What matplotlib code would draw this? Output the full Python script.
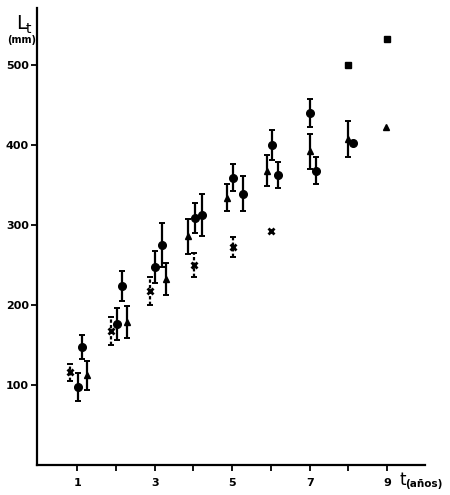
import matplotlib
matplotlib.use("Agg")
import matplotlib.pyplot as plt

# ---- data ----
circ_x = [1.02, 1.12, 2.02, 2.16, 3.02, 3.18, 4.04, 4.21, 5.03, 5.27, 6.03, 6.17, 7.02, 7.16, 8.11]
circ_y = [97.5, 147, 176, 224, 248, 275, 309, 312.5, 359, 339, 400, 362.5, 440, 368, 403]
circ_e = [17, 15, 20, 19, 20, 27, 19, 26, 17, 22, 19, 16, 17, 17, 0]

tri_x = [1.24, 2.28, 3.28, 3.87, 4.87, 5.91, 7.0, 8.0, 8.97]
tri_y = [112, 179, 232, 286, 334, 368, 392, 407.5, 422]
tri_e = [18, 20, 20, 22, 17, 19.5, 22, 22, 0]

crs_x = [0.81, 1.86, 2.88, 4.02, 5.01, 5.99]
crs_y = [116, 167.5, 217.5, 250, 273, 293]
crs_e = [10.5, 17.5, 17.5, 15, 12.5, 0]

sq_x = [7.99, 9.0]
sq_y = [500, 532.5]

x_ticks = [1, 2, 3, 4, 5, 6, 7, 8, 9]
x_labels = ["1", "", "3", "", "5", "", "7", "", "9"]
y_ticks = [100, 200, 300, 400, 500]
y_labels = ["100", "200", "300", "400", "500"]

fig = plt.figure(figsize=(4.5, 4.95), dpi=100)
ax = fig.add_axes([37.3 / 450, 30 / 495, 387.5 / 450, 456.8 / 495])
ax.set_xlim(-0.03, 9.97)
ax.set_ylim(0, 571)

ebkw = dict(fmt="none", ecolor="black", elinewidth=1.6, capsize=2.2, capthick=1.4)


def draw(xs, ys, es, dotted=False):
    pts = [(x, y, e) for x, y, e in zip(xs, ys, es) if e > 0]
    eb = ax.errorbar([p[0] for p in pts], [p[1] for p in pts],
                     yerr=[p[2] for p in pts], **ebkw)
    if dotted:
        for lc in eb[2]:
            lc.set_linestyle((0, (1.5, 1)))


draw(circ_x, circ_y, circ_e)
draw(tri_x, tri_y, tri_e)
draw(crs_x, crs_y, crs_e, dotted=True)

ax.plot(circ_x, circ_y, "o", color="black", markersize=5.5, linestyle="none")
ax.plot(tri_x, tri_y, "^", color="black", markersize=5, linestyle="none")
ax.plot(crs_x, crs_y, "x", color="black", markersize=4, markeredgewidth=2,
        linestyle="none")
ax.plot(sq_x, sq_y, "s", color="black", markersize=4.5, linestyle="none")

for s in ["top", "right"]:
    ax.spines[s].set_visible(False)
for s in ["left", "bottom"]:
    ax.spines[s].set_linewidth(1.6)

ax.set_xticks(x_ticks)
ax.set_xticklabels(x_labels)
ax.set_yticks(y_ticks)
ax.set_yticklabels(y_labels)
ax.tick_params(axis="both", direction="out", length=4, width=1.3, labelsize=8, pad=2)
for lab in ax.get_xticklabels() + ax.get_yticklabels():
    lab.set_fontweight("bold")
ax.tick_params(axis="x", pad=5)

fig.text(16 / 450, 1 - 29 / 495, "L", fontsize=14, ha="left", va="baseline")
fig.text(26 / 450, 1 - 33 / 495, "t", fontsize=10, ha="left", va="baseline")
fig.text(22 / 450, 1 - 43 / 495, "(mm)", fontsize=7, ha="center", va="baseline",
         fontweight="bold")
fig.text(399 / 450, 1 - 485 / 495, "t", fontsize=12, ha="left", va="baseline")
fig.text(405 / 450, 1 - 487 / 495, "(años)", fontsize=7.5, ha="left", va="baseline",
         fontweight="bold")

fig.savefig("out.png", dpi=100)
